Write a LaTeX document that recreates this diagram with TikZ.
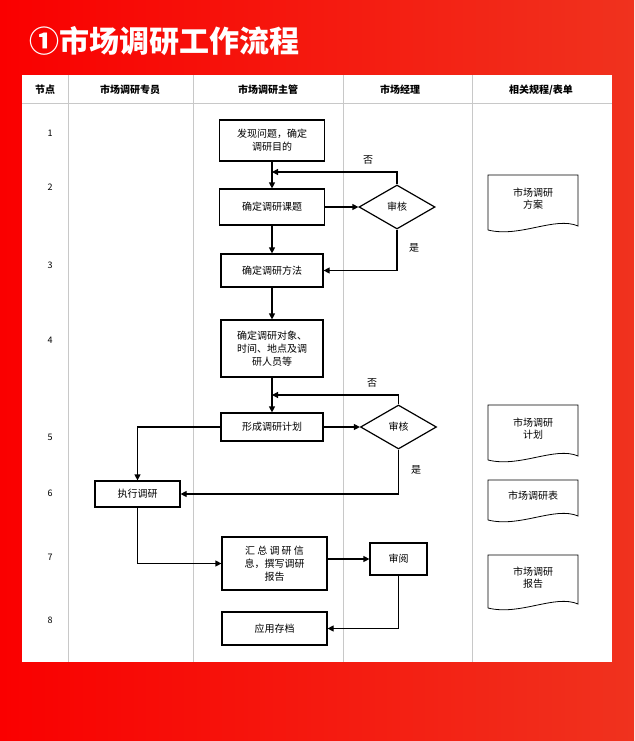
\documentclass[tikz,border=0pt]{standalone}
\usepackage{fontspec}
\setmainfont{Noto Sans CJK SC}
\usetikzlibrary{arrows.meta,shapes.geometric}
\definecolor{bgL}{RGB}{250,0,0}
\definecolor{bgR}{RGB}{240,50,30}
\definecolor{sep}{RGB}{200,200,200}
\tikzset{
  box/.style={draw,line width=1.2pt,minimum width=#1,align=center,inner sep=2pt,font=\fontsize{10}{13}\selectfont},
  dia/.style={draw,line width=1.2pt,diamond,aspect=1.75,inner sep=1pt,minimum width=76pt,minimum height=44pt,font=\fontsize{10}{12}\selectfont},
  arr/.style={line width=1.2pt,-{Triangle[length=6pt,width=6pt]}},
  hdr/.style={font=\fontsize{10}{12}\selectfont\bfseries},
  num/.style={font=\fontsize{9}{11}\selectfont},
  lbl/.style={font=\fontsize{10}{12}\selectfont},
  doc/.style={line width=0.8pt}
}
\begin{document}
\begin{tikzpicture}[x=1pt,y=-1pt]
\useasboundingbox (0,0) rectangle (634,741);
\shade[left color=bgL,right color=bgR] (0,0) rectangle (634,741);
\node[anchor=west,text=white,font=\fontsize{30}{33}\selectfont\bfseries] (title) at (26,41) {①市场调研工作流程};
\fill[white] (22,75) rectangle (612,662);
\draw[sep] (22,103) -- (612,103);
\foreach \x in {68,193,343,472} \draw[sep] (\x,75) -- (\x,662);
\node[hdr] (h1) at (45,90) {节点};
\node[hdr] (h2) at (130,90) {市场调研专员};
\node[hdr] (h3) at (268,90) {市场调研主管};
\node[hdr] (h4) at (400,90) {市场经理};
\node[hdr] (h5) at (541,90) {相关规程/表单};
\foreach \n/\y in {1/133,2/187,3/265,4/340,5/437,6/493,7/557,8/620} \node[num] (n\n) at (50,\y) {\n};
% boxes
\node[box=105pt,minimum height=41pt] (b1) at (272,140.5) {发现问题，确定\\调研目的};
\node[box=105pt,minimum height=36pt] (b2) at (272,207) {确定调研课题};
\node[box=102pt,minimum height=33pt] (b3) at (272,270.5) {确定调研方法};
\node[box=102pt,minimum height=57pt] (b4) at (272,348.5) {确定调研对象、\\时间、地点及调\\研人员等};
\node[box=102pt,minimum height=28pt] (b5) at (272,427) {形成调研计划};
\node[box=85pt,minimum height=26pt] (b6) at (137.5,494) {执行调研};
\node[box=105pt,minimum height=53pt] (b7) at (274.5,563.5) {汇 总 调 研 信\\息，撰写调研\\报告};
\node[box=57pt,minimum height=32pt] (b9) at (398.5,559) {审阅};
\node[box=105pt,minimum height=33pt] (b8) at (274.5,628.5) {应用存档};
\node[dia] (d1) at (397,207) {审核};
\node[dia] (d2) at (398.5,427) {审核};
% labels
\node[lbl] (no1) at (368,160) {否};
\node[lbl] (yes1) at (414,248) {是};
\node[lbl] (no2) at (372,383) {否};
\node[lbl] (yes2) at (416,470) {是};
% connectors
\draw[arr] (b1.south) -- (b2.north);
\draw[arr] (b2.south) -- (b3.north);
\draw[arr] (b3.south) -- (b4.north);
\draw[arr] (b4.south) -- (b5.north);
\draw[arr] (b2.east) -- (d1.west);
\coordinate (c1) at (272,172);
\draw[arr] (d1.north) |- (c1);
\draw[arr] (d1.south) |- (b3.east);
\draw[arr] (b5.east) -- (d2.west);
\coordinate (c2) at (272,395);
\draw[arr] (d2.north) |- (c2);
\draw[arr] (d2.south) |- (b6.east);
\draw[arr] (b5.west) -| (b6.north);
\draw[arr] (b6.south) |- (b7.west);
\draw[arr] (b7.east |- b9.west) -- (b9.west);
\draw[arr] (b9.south) |- (b8.east);
% documents
\foreach \nm/\yt/\yb/\txt in {p1/175/230/{市场调研\\方案},p2/405/460/{市场调研\\计划},p3/480/520/{市场调研表},p4/555/608/{市场调研\\报告}}{
  \draw[doc] (488,\yb) -- (488,\yt) -- (578,\yt) -- (578,\yb-4) .. controls (555,\yb-14) and (520,\yb+8) .. (488,\yb);
  \node[lbl,align=center] (\nm) at (533,{(\yt+\yb)/2-4}) {\txt};
}
\end{tikzpicture}
\end{document}
